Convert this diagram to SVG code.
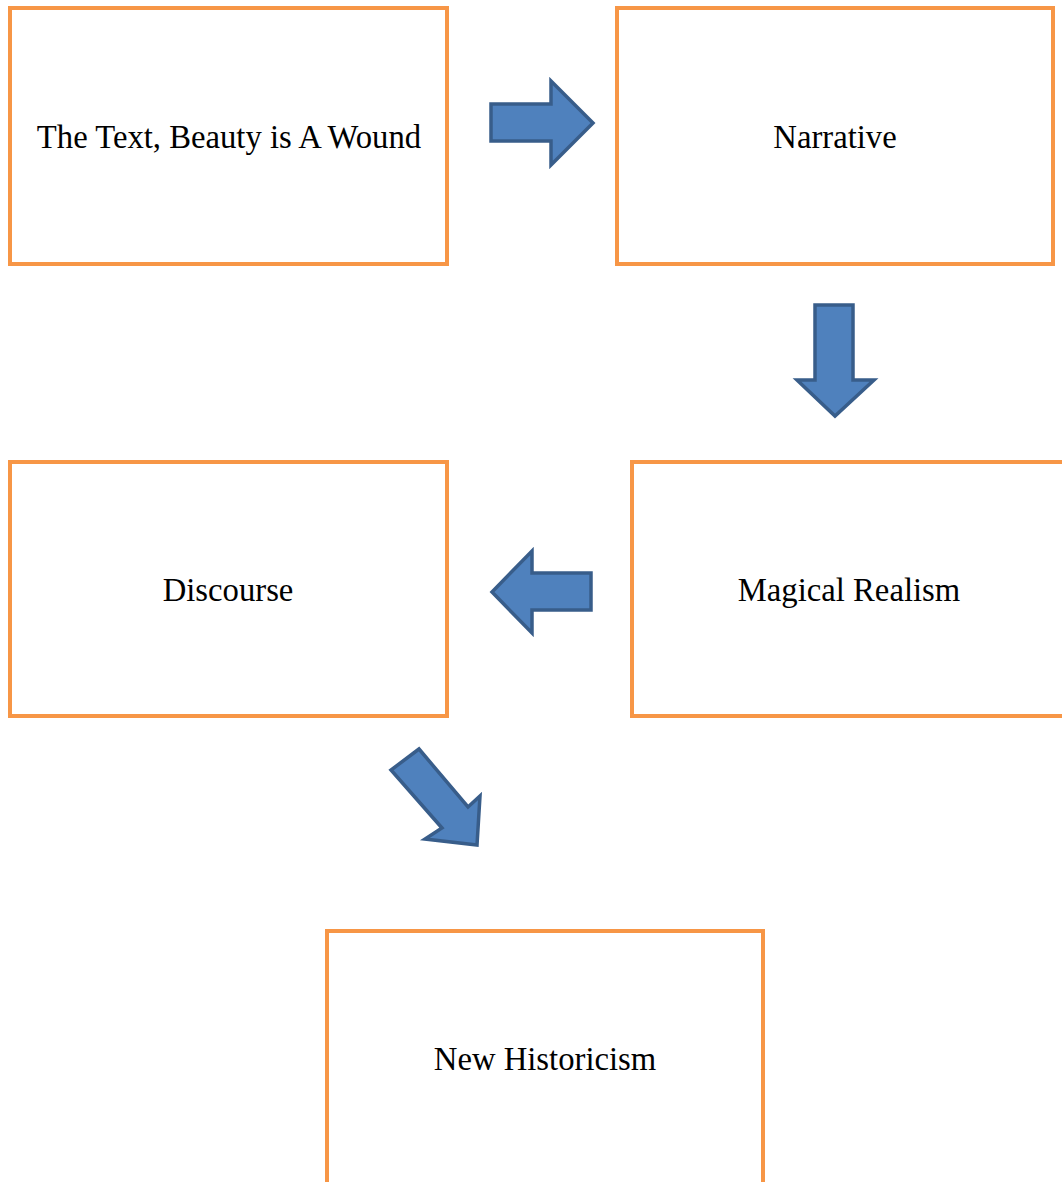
<svg xmlns="http://www.w3.org/2000/svg" width="1062" height="1182" viewBox="0 0 1062 1182">
<style>
.box{fill:#FFFFFF;stroke:#F79646;stroke-width:4}
.arr{fill:#4F81BD;stroke:#385D8A;stroke-width:3.5;stroke-linejoin:miter}
.lbl{font-family:"Liberation Serif","Times New Roman",serif;font-size:32.7px;fill:#000000;text-anchor:middle}
</style>
<rect width="1062" height="1182" fill="#FFFFFF"/>
<g id="node-text">
<rect class="box" x="10" y="8" width="437" height="256"/>
<text class="lbl" x="229" y="148">The Text, Beauty is A Wound</text>
</g>
<g id="node-narrative">
<rect class="box" x="617" y="8" width="436" height="256"/>
<text class="lbl" x="835" y="148">Narrative</text>
</g>
<g id="node-discourse">
<rect class="box" x="10" y="462" width="437" height="254"/>
<text class="lbl" x="228" y="601">Discourse</text>
</g>
<g id="node-magical">
<rect class="box" x="632" y="462" width="440" height="254"/>
<text class="lbl" x="849" y="601">Magical Realism</text>
</g>
<g id="node-newhist">
<rect class="box" x="327" y="931" width="436" height="260"/>
<text class="lbl" x="545" y="1070">New Historicism</text>
</g>
<g id="connectors">
<polygon class="arr" points="491,104 551,104 551,81 593,123 551,165 551,141 491,141"/>
<polygon class="arr" points="815,305 853,305 853,380 874,380 835,416 797,380 815,380"/>
<polygon class="arr" points="591,573 532,573 532,551 492,592 532,633 532,610 591,610"/>
<polygon class="arr" points="419,749 468,807 480,796 477,845 425,839 442,828 391,770"/>
</g>
</svg>
